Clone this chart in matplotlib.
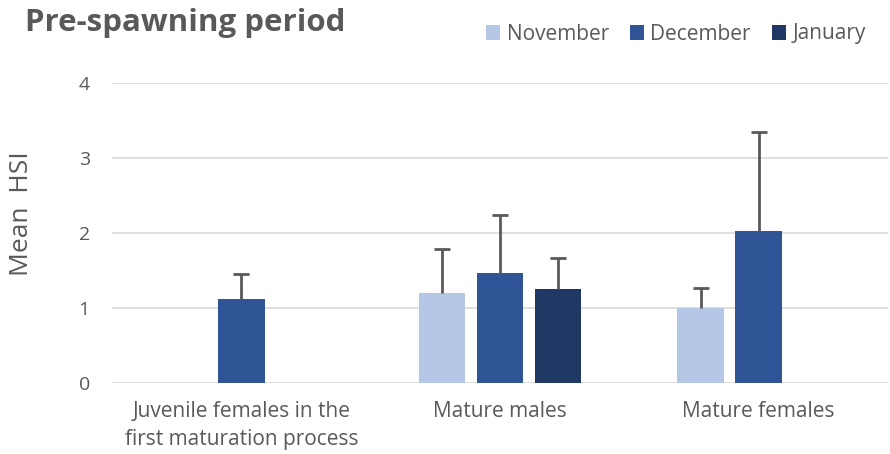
import matplotlib
matplotlib.use("Agg")
import matplotlib.pyplot as plt
import numpy as np
from matplotlib.patches import Patch

categories = ["Juvenile females in the\nfirst maturation process", "Mature males", "Mature females"]
series = ["November", "December", "January"]
november = [np.nan, 1.20, 1.00]
december = [1.12, 1.47, 2.03]
january = [np.nan, 1.25, np.nan]
nov_err = [np.nan, 0.59, 0.27]
dec_err = [0.33, 0.77, 1.32]
jan_err = [np.nan, 0.42, np.nan]
yticks = [0, 1, 2, 3, 4]

colors = ["#B4C7E7", "#2F5597", "#1F3864"]
txt = "#595959"
font = "Open Sans"
plt.rcParams['font.family'] = [font, 'DejaVu Sans']

fig = plt.figure(figsize=(8.9, 4.54), dpi=100)
ax = fig.add_axes([112/890, 1-383/454, 776/890, 300/454])

x = np.arange(len(categories))
w = 0.18
off = 0.224
for i, (vals, errs) in enumerate([(november, nov_err), (december, dec_err), (january, jan_err)]):
    pos = x + (i - 1) * off
    ax.bar(pos, vals, width=w, color=colors[i], zorder=3)
    eb = ax.errorbar(pos, vals, yerr=[np.zeros(len(errs)), errs], fmt='none', ecolor=txt,
                     elinewidth=2, capsize=6, capthick=2, zorder=4)
    eb[1][0].set_visible(False)

ax.set_xlim(-0.5, 2.5)
ax.set_ylim(0, 4)
ax.set_yticks(yticks)
ax.set_yticklabels([str(t) for t in yticks], color=txt, fontsize=14)
ax.set_xticks(x)
ax.set_xticklabels(categories, color=txt, fontsize=15, linespacing=1.45)
ax.tick_params(axis='y', length=0, pad=16)
ax.tick_params(axis='x', length=0, pad=13)
ax.grid(axis='y', color="#D9D9D9", linewidth=1.2, zorder=0)
for s in ax.spines.values():
    s.set_visible(False)

fig.text(22/890, 1-214/454, "Mean  HSI", rotation=90, ha='center', va='center', color=txt, fontsize=19)
fig.text(25/890, 1-23/454, "Pre-spawning period", ha='left', va='center', color=txt, fontsize=22.5, fontweight='bold')

handles = [Patch(facecolor=c, label=s) for c, s in zip(colors, series)]
fig.legend(handles=handles, loc='center right', bbox_to_anchor=(866/890, 1-34/454), ncol=3,
           frameon=False, fontsize=15, handlelength=0.7, handleheight=0.7, handletextpad=0.3,
           columnspacing=1.0, labelcolor=txt, borderaxespad=0, borderpad=0)

fig.savefig("out.png", dpi=100)
